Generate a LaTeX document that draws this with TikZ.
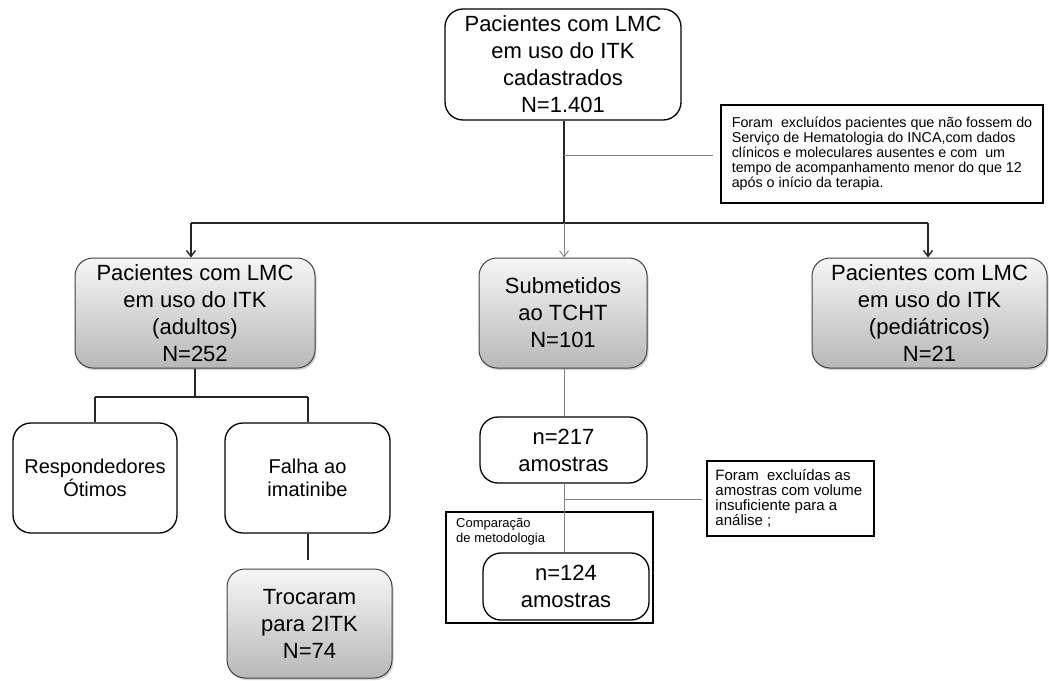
\documentclass[tikz,border=0pt]{standalone}
\usepackage{fontspec}
\setmainfont{Liberation Sans}
\usetikzlibrary{arrows.meta,shadows}
\definecolor{gtop}{RGB}{246,246,246}
\definecolor{gbot}{RGB}{184,184,184}
\definecolor{gline}{RGB}{64,64,64}
\definecolor{thin}{RGB}{130,130,130}
\tikzset{
  big/.style={font=\fontsize{22}{27}\selectfont, align=center},
  whitebox/.style={big, draw=black, line width=1.3pt, rounded corners=18pt, fill=white},
  graybox/.style={big, draw=gline, line width=1pt, rounded corners=18pt, top color=gtop, bottom color=gbot, drop shadow={shadow xshift=1.5pt, shadow yshift=-2pt, opacity=0.35, fill=gray}},
  notebox/.style={draw=black, line width=1.6pt, fill=white, font=\fontsize{14.3}{15}\selectfont, align=left, inner sep=6pt},
  conn/.style={line width=1.4pt, draw=black!85},
  thinconn/.style={line width=0.9pt, draw=thin},
  arr/.style={-{Straight Barb[length=6pt,width=9pt]}}
}
\begin{document}
\begin{tikzpicture}[x=1pt,y=-1pt]
\useasboundingbox (0,0) rectangle (1049,680);
% boxes
\node[whitebox, minimum width=236pt, minimum height=111pt] (top) at (563,64.5) {Pacientes com LMC\\em uso do ITK\\cadastrados\\N=1.401};
\node[notebox, minimum width=322pt, minimum height=98pt] (note1) at (882,154) {Foram\ \ excluídos pacientes que não fossem do\\Serviço de Hematologia do INCA,com dados\\clínicos e moleculares ausentes e com\ \ um\\tempo de acompanhamento menor do que 12\\após o início da terapia.};
\node[graybox, minimum width=240pt, minimum height=110pt] (adult) at (195,313) {Pacientes com LMC\\em uso do ITK\\(adultos)\\N=252};
\node[graybox, minimum width=168pt, minimum height=110pt] (tcht) at (563,313) {Submetidos\\ao TCHT\\N=101};
\node[graybox, minimum width=235pt, minimum height=110pt] (ped) at (929.5,313) {Pacientes com LMC\\em uso do ITK\\(pediátricos)\\N=21};
\node[whitebox, font=\fontsize{20}{23}\selectfont, minimum width=164pt, minimum height=110pt] (resp) at (95,478) {Respondedores\\Ótimos};
\node[whitebox, font=\fontsize{20}{23}\selectfont, minimum width=165pt, minimum height=110pt] (falha) at (307.5,478) {Falha ao\\imatinibe};
\node[graybox, minimum width=165pt, minimum height=109pt] (troc) at (309.5,623.5) {Trocaram\\para 2ITK\\N=74};
\node[whitebox, minimum width=167pt, minimum height=66pt] (n217) at (563.5,450) {n=217\\amostras};
\node[notebox, font=\fontsize{15}{15}\selectfont, minimum width=167pt, minimum height=75pt] (note2) at (790.5,498.5) {Foram\ \ excluídas as\phantom{xx}\\amostras com volume\\insuficiente para a\\análise ;};
\node[draw=black, line width=2pt, minimum width=207pt, minimum height=111pt] (comp) at (549.5,567.5) {};
\node[anchor=north west, font=\fontsize{13}{15}\selectfont, align=left, inner sep=0pt] (complabel) at (456,518) {Comparação\\de metodologia};
\node[whitebox, minimum width=166pt, minimum height=67pt] (n124) at (566,586.5) {n=124\\amostras};
% coordinates
\coordinate (hub) at (564,223);
\coordinate (hl) at (191,223);
\coordinate (hr) at (928,223);
\coordinate (b1) at (564,155);
\coordinate (n1end) at (713,155);
\coordinate (ahub) at (195,397);
\coordinate (al) at (95,397);
\coordinate (ar) at (308,397);
\coordinate (fend) at (308,560);
\coordinate (b2) at (564,499);
\coordinate (n2end) at (702,499);
% connectors
\draw[conn] (top.south -| hub) -- (hub);
\draw[conn] (hl) -- (hr);
\draw[conn, arr] (hl) -- (hl |- adult.north);
\draw[conn, arr] (hr) -- (hr |- ped.north);
\draw[thinconn, arr] (hub) -- (hub |- tcht.north);
\draw[thinconn] (b1) -- (n1end);
\draw[conn] (adult.south -| ahub) -- (ahub);
\draw[conn] (al) -- (ar);
\draw[conn] (al) -- (al |- resp.north);
\draw[conn] (ar) -- (ar |- falha.north);
\draw[conn] (falha.south -| fend) -- (fend);
\draw[thinconn] (tcht.south -| b2) -- (b2 |- n217.north);
\draw[thinconn] (n217.south -| b2) -- (b2 |- n124.north);
\draw[thinconn] (b2) -- (n2end);
\end{tikzpicture}
\end{document}
